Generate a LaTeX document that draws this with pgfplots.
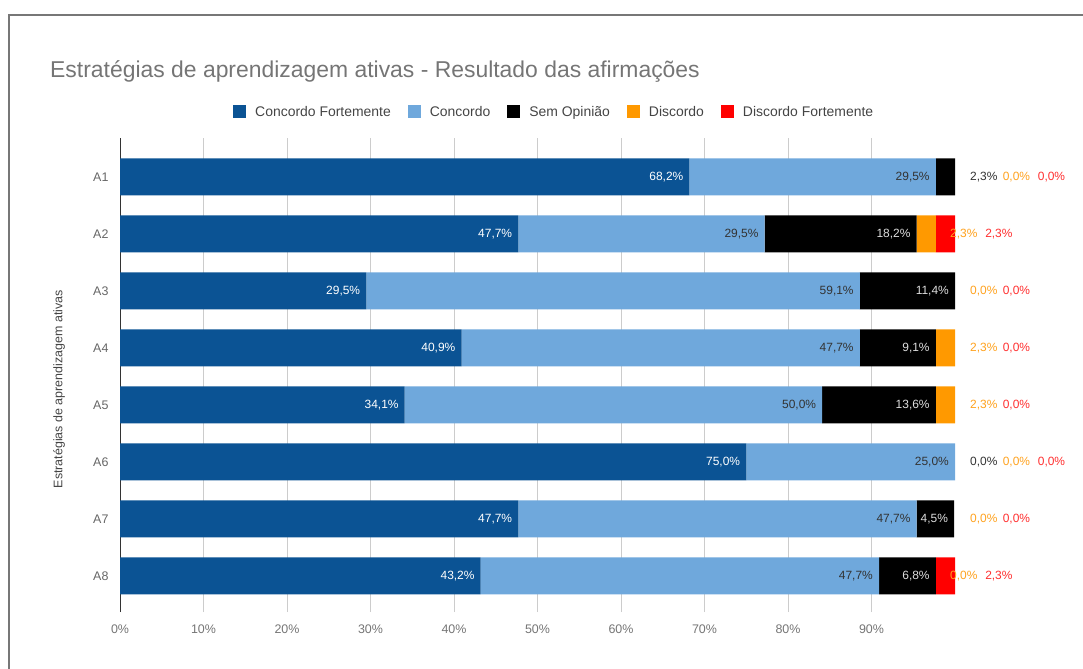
\documentclass[border=0pt]{standalone}
\usepackage{fontspec}
\setmainfont{Liberation Sans}
\usepackage{pgfplots}
\pgfplotsset{compat=1.18}
\definecolor{cf}{HTML}{0B5394}
\definecolor{cc}{HTML}{6FA8DC}
\definecolor{so}{HTML}{000000}
\definecolor{di}{HTML}{FF9900}
\definecolor{df}{HTML}{FF0000}
\definecolor{titlec}{HTML}{757575}
\definecolor{tickc}{HTML}{757575}
\definecolor{ytickc}{HTML}{666666}
\definecolor{darktxt}{HTML}{333333}
\definecolor{legtxt}{HTML}{444444}
\definecolor{gridc}{HTML}{CCCCCC}
\definecolor{framec}{HTML}{777777}
\definecolor{orlab}{HTML}{FFA21F}
\definecolor{redlab}{HTML}{FF3030}
\definecolor{blacklab}{HTML}{DDDDDD}
\pgfplotsset{lab/.style={only marks, mark=none, nodes near coords, point meta=explicit symbolic,
  every node near coord/.append style={text=#1}}}
\begin{document}
\begin{tikzpicture}
\path[use as bounding box] (0bp,0bp) rectangle (1083bp,-669bp);
\draw[framec, line width=1.6bp] (9bp,-669bp) -- (9bp,-15bp) -- (1083bp,-15bp);
\node[anchor=base west, text=titlec, font=\fontsize{23}{27}\selectfont, inner sep=0pt] at (50bp,-77bp) {Estratégias de aprendizagem ativas - Resultado das afirmações};
\begin{axis}[
  at={(120bp,-612bp)}, anchor=south west, scale only axis,
  width=835bp, height=474bp,
  xbar stacked, bar width=37bp,
  xmin=0, xmax=100, ymin=0.368, ymax=8.684,
  xtick={0,10,...,90},
  xticklabels={0\%,10\%,20\%,30\%,40\%,50\%,60\%,70\%,80\%,90\%},
  ytick={1,...,8},
  yticklabels={A8,A7,A6,A5,A4,A3,A2,A1},
  xmajorgrids, grid style={color=gridc, line width=1bp},
  major tick length=0,
  axis y line*=left, axis x line*=bottom,
  x axis line style={draw=none},
  y axis line style={draw=darktxt, line width=1bp},
  xticklabel style={text=tickc, font=\fontsize{12.5}{15}\selectfont, anchor=north, yshift=-9bp},
  yticklabel style={text=ytickc, font=\fontsize{12.5}{15}\selectfont, anchor=east, xshift=-8bp},
  ylabel={Estratégias de aprendizagem ativas},
  ylabel style={at={(axis description cs:-0.073,0.47)}, anchor=center, text=legtxt, font=\fontsize{12.5}{15}\selectfont},
  clip=false,
  legend columns=5,
  legend style={at={(0.52,1.0549)}, anchor=center, draw=none, fill=none,
    font=\fontsize{14}{16}\selectfont, text=legtxt,
    /tikz/every odd column/.append style={column sep=7bp},
    /tikz/every even column/.append style={column sep=15bp}},
  legend image code/.code={\fill[#1] (0bp,-6.5bp) rectangle (13bp,6.5bp);},
]
\addplot[fill=cf, draw=none] coordinates {
 (68.2,8) (47.7,7) (29.5,6) (40.9,5) (34.1,4) (75.0,3) (47.7,2) (43.2,1)};
\addplot[fill=cc, draw=none] coordinates {
 (29.5,8) (29.5,7) (59.1,6) (47.7,5) (50.0,4) (25.0,3) (47.7,2) (47.7,1)};
\addplot[fill=so, draw=none] coordinates {
 (2.3,8) (18.2,7) (11.4,6) (9.1,5) (13.6,4) (0.0,3) (4.5,2) (6.8,1)};
\addplot[fill=di, draw=none] coordinates {
 (0.0,8) (2.3,7) (0.0,6) (2.3,5) (2.3,4) (0.0,3) (0.0,2) (0.0,1)};
\addplot[fill=df, draw=none] coordinates {
 (0.0,8) (2.3,7) (0.0,6) (0.0,5) (0.0,4) (0.0,3) (0.0,2) (2.3,1)};
\legend{Concordo Fortemente,Concordo,Sem Opinião,Discordo,Discordo Fortemente}
\end{axis}
% value labels (placed at the end of each segment, or beside the bar)
\begin{axis}[
  at={(120bp,-612bp)}, anchor=south west, scale only axis,
  width=835bp, height=474bp, hide axis,
  xmin=0, xmax=100, ymin=0.368, ymax=8.684,
  clip=false,
  every node near coord/.append style={inner sep=0pt, font=\fontsize{12}{14}\selectfont},
  inlab/.style={lab=#1, every node near coord/.append style={anchor=east, xshift=-6bp}},
  outlab/.style={lab=#1, every node near coord/.append style={anchor=west}},
]
\addplot[inlab=white] coordinates {
 (68.2,8) [68,2\%] (47.7,7) [47,7\%] (29.5,6) [29,5\%] (40.9,5) [40,9\%]
 (34.1,4) [34,1\%] (75.0,3) [75,0\%] (47.7,2) [47,7\%] (43.2,1) [43,2\%]};
\addplot[inlab=darktxt] coordinates {
 (97.7,8) [29,5\%] (77.2,7) [29,5\%] (88.6,6) [59,1\%] (88.6,5) [47,7\%]
 (84.1,4) [50,0\%] (100.0,3) [25,0\%] (95.4,2) [47,7\%] (90.9,1) [47,7\%]};
\addplot[inlab=blacklab] coordinates {
 (95.4,7) [18,2\%] (100.0,6) [11,4\%] (97.7,5) [9,1\%]
 (97.7,4) [13,6\%] (99.9,2) [4,5\%] (97.7,1) [6,8\%]};
\addplot[outlab=darktxt] coordinates {
 (101.8,8) [2,3\%] (101.8,3) [0,0\%]};
\addplot[outlab=orlab] coordinates {
 (105.7,8) [0,0\%] (99.4,7) [2,3\%] (101.8,6) [0,0\%] (101.8,5) [2,3\%]
 (101.8,4) [2,3\%] (105.7,3) [0,0\%] (101.8,2) [0,0\%] (99.4,1) [0,0\%]};
\addplot[outlab=redlab] coordinates {
 (109.9,8) [0,0\%] (103.6,7) [2,3\%] (105.7,6) [0,0\%] (105.7,5) [0,0\%]
 (105.7,4) [0,0\%] (109.9,3) [0,0\%] (105.7,2) [0,0\%] (103.6,1) [2,3\%]};
\end{axis}
\end{tikzpicture}
\end{document}
